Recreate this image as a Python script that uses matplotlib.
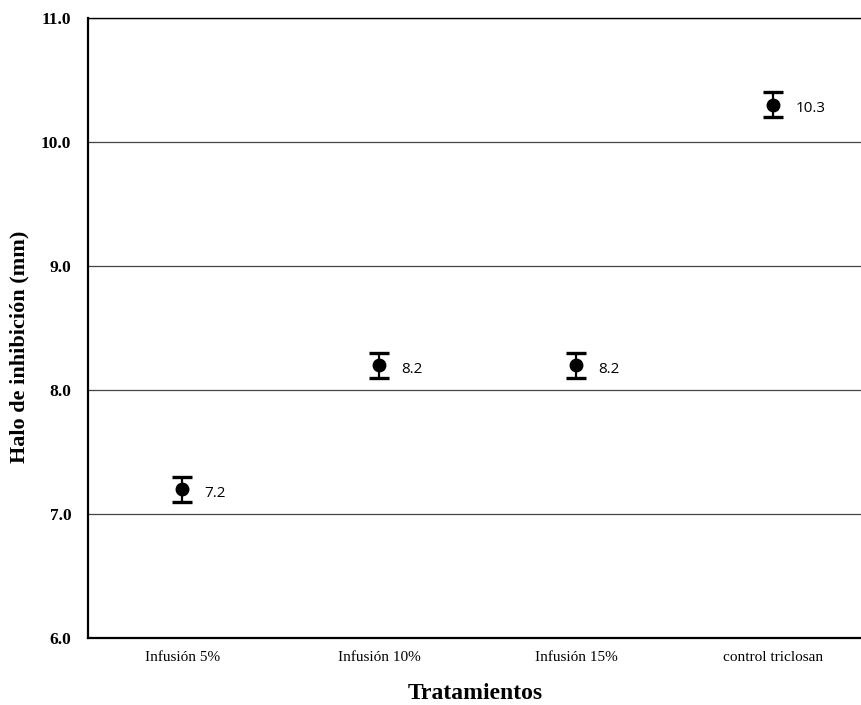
import matplotlib
matplotlib.use("Agg")
import matplotlib.pyplot as plt
import numpy as np

# Inhibition halo by treatment
tratamientos = ["Infusión 5%", "Infusión 10%", "Infusión 15%", "control triclosan"]
halo_mm = [7.2, 8.2, 8.2, 10.3]
desv = [0.1, 0.1, 0.1, 0.1]
yticks = [6.0, 7.0, 8.0, 9.0, 10.0, 11.0]

serif = ["Liberation Serif", "DejaVu Serif"]

fig = plt.figure(figsize=(8.62, 7.05), dpi=100)
ax = fig.add_axes([0.102, 0.095, 0.898, 0.8795])

x = np.arange(len(tratamientos))
ax.errorbar(x, halo_mm, yerr=desv, fmt="o", color="black", markersize=9,
            elinewidth=1.6, capsize=7, capthick=2.4, zorder=3)

for xi, v in zip(x, halo_mm):
    ax.annotate(f"{v:.1f}", (xi, v), xytext=(16, -3), textcoords="offset points",
                fontsize=11, family=["Open Sans", "DejaVu Sans"], va="center", ha="left")

ax.set_ylim(6.0, 11.0)
ax.set_xlim(-0.48, 3.45)
ax.set_yticks(yticks)
ax.set_yticklabels([f"{t:.1f}" for t in yticks], family=serif, fontsize=12.5, fontweight="bold")
ax.set_xticks(x)
ax.set_xticklabels(tratamientos, family=serif, fontsize=11)
ax.tick_params(axis="y", length=0, pad=12)
ax.tick_params(axis="x", length=0, pad=9)

ax.yaxis.grid(True, color="#444444", linewidth=0.9)
ax.set_axisbelow(True)
for s in ["left", "bottom"]:
    ax.spines[s].set_linewidth(1.6)
ax.spines["top"].set_linewidth(1.0)
ax.spines["right"].set_visible(False)

ax.set_ylabel("Halo de inhibición (mm)", family=serif, fontsize=16, fontweight="bold")
ax.yaxis.set_label_coords(-0.076, 0.47)
ax.set_xlabel("Tratamientos", family=serif, fontsize=17, fontweight="bold", labelpad=14)

fig.savefig("out.png", dpi=100)
